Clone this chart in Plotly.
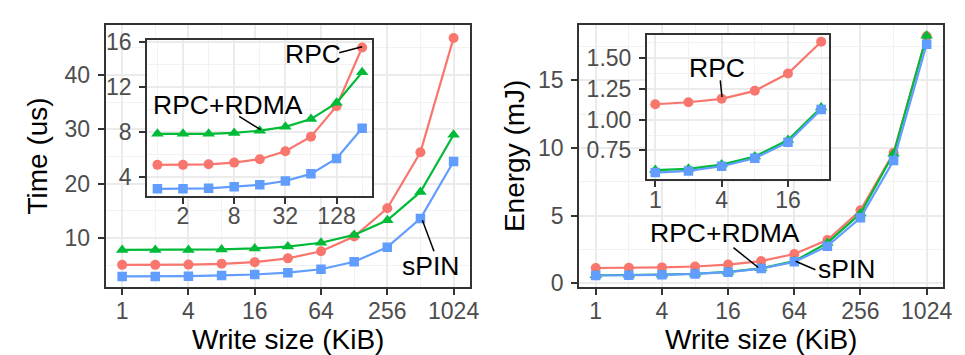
import math
import plotly.graph_objects as go

# ---------------- data ----------------
write_size = [1, 2, 4, 8, 16, 32, 64, 128, 256, 512, 1024]

time_rpc = [5.1, 5.1, 5.15, 5.3, 5.6, 6.3, 7.6, 10.3, 15.5, 25.8, 46.8]
time_rdma = [7.85, 7.85, 7.85, 7.93, 8.13, 8.47, 9.16, 10.6, 13.3, 18.5, 29.0]
time_spin = [2.97, 2.97, 3.02, 3.16, 3.33, 3.67, 4.3, 5.67, 8.35, 13.6, 24.1]

energy_rpc = [1.126, 1.142, 1.17, 1.235, 1.376, 1.635, 2.16, 3.19, 5.4, 9.65, 18.26]
energy_rdma = [0.59, 0.60, 0.635, 0.70, 0.835, 1.10, 1.63, 2.98, 5.16, 9.58, 18.3]
energy_spin = [0.57, 0.583, 0.621, 0.686, 0.817, 1.084, 1.58, 2.74, 4.84, 9.07, 17.67]

series_names = ["RPC", "RPC+RDMA", "sPIN"]
time_inset_max = 256
energy_inset_max = 32

main_ticks = [1, 4, 16, 64, 256, 1024]
time_ticks = [10, 20, 30, 40]
time_inset_xticks = [2, 8, 32, 128]
time_inset_yticks = [4, 8, 12, 16]
energy_ticks = [0, 5, 10, 15]
energy_inset_xticks = [1, 4, 16]
energy_inset_yticks = [0.75, 1.00, 1.25, 1.50]
energy_inset_ylabels = ["0.75", "1.00", "1.25", "1.50"]

# ---------------- style ----------------
W, H = 965, 355
COLORS = ["#F8766D", "#00BA38", "#619CFF"]
SYMBOLS = ["circle", "triangle-up", "square"]
MSIZE = [10, 11, 9.5]
FONT = "Liberation Sans, Arial, Helvetica, sans-serif"
GRID = "#EBEBEB"
MINOR = "#F2F2F2"
BORDER = "#333333"
TICKFONT = dict(family=FONT, size=23, color="#4D4D4D")


def dx(a, b):
    return [a / W, b / W]


def dy(top, bottom):
    return [1 - bottom / H, 1 - top / H]


def px(x, y):
    return x / W, 1 - y / H


def lg(e):
    return e * math.log10(2)


fig = go.Figure()


def add_series(xs, ys_list, xa, ya, limit=None):
    for i, ys in enumerate(ys_list):
        pts = [(x, y) for x, y in zip(xs, ys) if limit is None or x <= limit]
        fig.add_trace(go.Scatter(
            x=[p[0] for p in pts], y=[p[1] for p in pts],
            mode="lines+markers", name=series_names[i], showlegend=False,
            xaxis=xa, yaxis=ya,
            line=dict(color=COLORS[i], width=2.2),
            marker=dict(color=COLORS[i], symbol=SYMBOLS[i], size=MSIZE[i],
                        line=dict(width=0)),
        ))


time_series = [time_rpc, time_rdma, time_spin]
energy_series = [energy_rpc, energy_rdma, energy_spin]

add_series(write_size, time_series, "x", "y")
add_series(write_size, time_series, "x2", "y2", time_inset_max)
add_series(write_size, energy_series, "x3", "y3")
add_series(write_size, energy_series, "x4", "y4", energy_inset_max)


def axis(domain, rng, tickvals, ticktext, minor_vals, anchor, log=False, standoff=0):
    d = dict(
        domain=domain, range=rng, anchor=anchor,
        tickmode="array", tickvals=tickvals, ticktext=ticktext,
        showgrid=True, gridcolor=GRID, gridwidth=2.2,
        minor=dict(tickmode="array", tickvals=minor_vals, showgrid=True,
                   gridcolor=MINOR, gridwidth=1.1),
        showline=True, mirror=True, linecolor=BORDER, linewidth=2,
        ticks="outside", ticklen=6, tickwidth=2, tickcolor=BORDER,
        tickfont=TICKFONT, zeroline=False, fixedrange=True,
        ticklabelstandoff=standoff,
    )
    if log:
        d["type"] = "log"
    return d


main_minor_x = [2, 8, 32, 128, 512]
XS = -4
XS_IN = -7
YS = 3

fig.update_layout(
    width=W, height=H,
    margin=dict(l=0, r=0, t=0, b=0),
    paper_bgcolor="white", plot_bgcolor="white",
    showlegend=False,
    xaxis=axis(dx(98.5, 466.5), [lg(-0.5), lg(10.5)], main_ticks,
               [str(v) for v in main_ticks], main_minor_x, "y", log=True, standoff=XS),
    yaxis=axis(dy(6.2, 284.2), [1.0, 49.2], time_ticks,
               [str(v) for v in time_ticks], [5, 15, 25, 35, 45], "x", standoff=YS),
    xaxis2=axis(dx(140.5, 367.8), [lg(-0.4), lg(8.4)], time_inset_xticks,
                [str(v) for v in time_inset_xticks], [1, 4, 16, 64, 256], "y2", log=True,
                standoff=XS_IN),
    yaxis2=axis(dy(22.5, 187.3), [2.36, 16.15], time_inset_yticks,
                [str(v) for v in time_inset_yticks], [6, 10, 14], "x2", standoff=YS),
    xaxis3=axis(dx(576.6, 944), [lg(-0.5), lg(10.5)], main_ticks,
                [str(v) for v in main_ticks], main_minor_x, "y3", log=True, standoff=XS),
    yaxis3=axis(dy(6.3, 284.3), [-0.3, 19.1], energy_ticks,
                [str(v) for v in energy_ticks], [2.5, 7.5, 12.5, 17.5], "x3", standoff=YS),
    xaxis4=axis(dx(645, 829.2), [lg(-0.25), lg(5.25)], energy_inset_xticks,
                [str(v) for v in energy_inset_xticks], [2, 8, 32], "y4", log=True,
                standoff=XS_IN),
    yaxis4=axis(dy(16.9, 169.6), [0.517, 1.69], energy_inset_yticks,
                energy_inset_ylabels, [0.625, 0.875, 1.125, 1.375, 1.625], "x4",
                standoff=YS),
)

annotations = []


def label(text, x, y, size=26.5, angle=0):
    ax_, ay_ = px(x, y)
    annotations.append(dict(
        text=text, x=ax_, y=ay_, xref="paper", yref="paper",
        xanchor="center", yanchor="middle", showarrow=False,
        textangle=angle, font=dict(family=FONT, size=size, color="black"),
    ))


def leader(x0, y0, x1, y1):
    a0, b0 = px(x0, y0)
    a1, b1 = px(x1, y1)
    fig.add_shape(type="line", xref="paper", yref="paper",
                  x0=a0, y0=b0, x1=a1, y1=b1,
                  line=dict(color="black", width=1.5))


# axis titles
label("Time (us)", 30, 145, size=28, angle=-90)
label("Energy (mJ)", 512, 145, size=28, angle=-90)
label("Write size (KiB)", 282.5, 340, size=28)
label("Write size (KiB)", 760.3, 340, size=28)

# series labels
label("sPIN", 426.5, 262)
leader(418.3, 213.3, 430, 246)
label("RPC", 308, 37)
leader(334.3, 35.7, 357.5, 29.5)
label("RPC+RDMA", 221.7, 91.5)
leader(233.3, 103.3, 255, 117.3)
label("RPC", 715.3, 51.7)
leader(719, 65, 720.7, 82.7)
label("RPC+RDMA", 723.7, 227.3)
leader(732.3, 242.3, 757.3, 263.3)
label("sPIN", 846.7, 265.3)
leader(795, 256.7, 815, 265.7)

fig.update_layout(annotations=annotations)

fig.write_html("out.html")
